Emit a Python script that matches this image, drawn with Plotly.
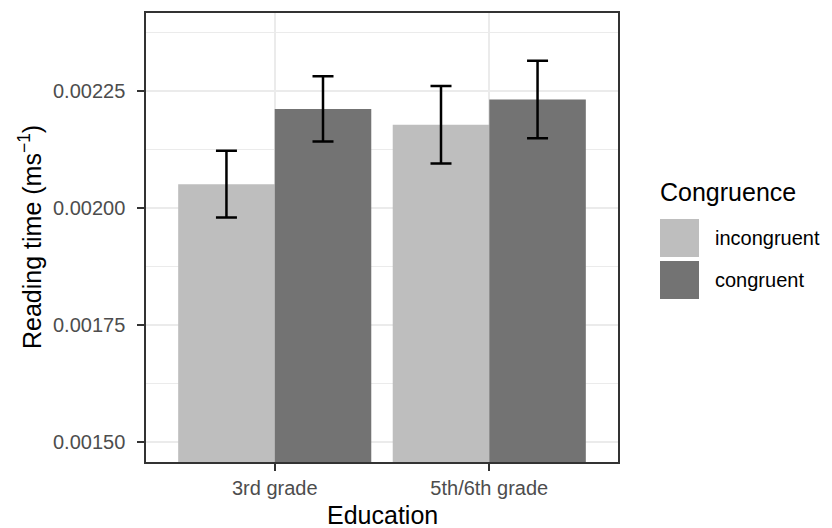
import plotly.graph_objects as go

# Data
education = ["3rd grade", "5th/6th grade"]
congruence = ["incongruent", "congruent"]
incongruent_mean = [0.002051, 0.002178]
incongruent_err = [0.0000715, 0.0000830]
congruent_mean = [0.002212, 0.002232]
congruent_err = [0.0000700, 0.0000830]
colors = {"incongruent": "#BEBEBE", "congruent": "#737373"}

W, H = 832, 528
L, R, T, B = 146, 618, 13, 462

fig = go.Figure()
for name, means, errs in [("incongruent", incongruent_mean, incongruent_err),
                          ("congruent", congruent_mean, congruent_err)]:
    fig.add_trace(go.Bar(
        x=education, y=means, name=name,
        marker=dict(color=colors[name], line=dict(width=0)),
        error_y=dict(type="data", array=errs, visible=True,
                     color="black", thickness=2.5, width=10.5),
        showlegend=False,
    ))

font = "Liberation Sans, Arial, Helvetica, sans-serif"

fig.update_layout(
    width=W, height=H,
    margin=dict(l=L, r=W - R, t=T, b=H - B),
    paper_bgcolor="white", plot_bgcolor="white",
    barmode="group", bargap=0.1, bargroupgap=0,
    font=dict(family=font, color="#4D4D4D", size=20),
)

fig.update_xaxes(
    type="category", range=[-0.6, 1.6],
    showgrid=True, gridcolor="#EBEBEB", gridwidth=2,
    showline=True, mirror=True, linecolor="#333333", linewidth=1.5,
    ticks="outside", ticklen=7, tickwidth=1.5, tickcolor="#333333",
    tickfont=dict(size=20, color="#4D4D4D", family=font),
    zeroline=False,
)
fig.update_yaxes(
    range=[0.001457, 0.002417],
    tick0=0.0015, dtick=0.00025, tickformat=".5f",
    showgrid=True, gridcolor="#EBEBEB", gridwidth=2,
    minor=dict(dtick=0.000125, showgrid=True, gridcolor="#EBEBEB", gridwidth=1),
    showline=True, mirror=True, linecolor="#333333", linewidth=1.5,
    ticks="outside", ticklen=7, tickwidth=1.5, tickcolor="#333333",
    ticklabelstandoff=8,
    tickfont=dict(size=20, color="#4D4D4D", family=font),
    zeroline=False,
)

def px_x(px):
    return (px - L) / (R - L)

def px_y(py):
    return (B - py) / (B - T)

annotations = [
    dict(text="Education", x=px_x(382), y=px_y(515), xref="paper", yref="paper",
         xanchor="center", yanchor="middle", showarrow=False,
         font=dict(size=25, color="black", family=font)),
    dict(text="Reading time (ms<sup>−1</sup>)", x=px_x(30), y=px_y(237),
         xref="paper", yref="paper", textangle=-90,
         xanchor="center", yanchor="middle", showarrow=False,
         font=dict(size=25, color="black", family=font)),
    dict(text="Congruence", x=px_x(658), y=px_y(192), xref="paper", yref="paper",
         xanchor="left", yanchor="middle", showarrow=False,
         font=dict(size=25, color="black", family=font)),
]
shapes = []
key_tops = [219, 261]
for name, top in zip(congruence, key_tops):
    shapes.append(dict(type="rect", xref="paper", yref="paper",
                       x0=px_x(660), x1=px_x(699), y0=px_y(top + 38), y1=px_y(top),
                       fillcolor=colors[name], line=dict(width=0)))
    annotations.append(dict(text=name, x=px_x(713), y=px_y(top + 19),
                            xref="paper", yref="paper", xanchor="left",
                            yanchor="middle", showarrow=False,
                            font=dict(size=20, color="black", family=font)))

fig.update_layout(annotations=annotations, shapes=shapes)
fig.write_html(
    "out.html",
    config={"displayModeBar": False},
    post_script="document.body.style.margin='0';document.body.style.overflow='hidden';",
)
